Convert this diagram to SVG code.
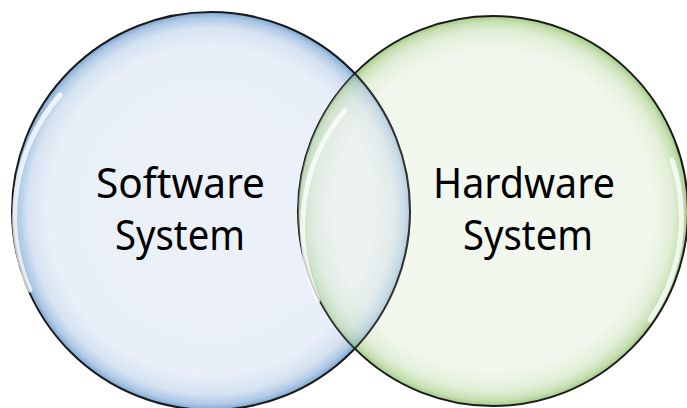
<svg xmlns="http://www.w3.org/2000/svg" width="687" height="408" viewBox="0 0 687 408">
  <defs>
    <radialGradient id="gBlue" cx="0.5" cy="0.5" r="0.5">
      <stop offset="0" stop-color="#ECF1F9"/>
      <stop offset="0.82" stop-color="#E9EFF8"/>
      <stop offset="0.92" stop-color="#D6E3F2"/>
      <stop offset="0.97" stop-color="#AFC9E6"/>
      <stop offset="1" stop-color="#7FA6D2"/>
    </radialGradient>
    <radialGradient id="gGreen" cx="0.5" cy="0.5" r="0.5">
      <stop offset="0" stop-color="#EEF5E9"/>
      <stop offset="0.82" stop-color="#ECF4E6"/>
      <stop offset="0.92" stop-color="#D7E9C9"/>
      <stop offset="0.97" stop-color="#B2D597"/>
      <stop offset="1" stop-color="#7FB55A"/>
    </radialGradient>
    <clipPath id="clipGreen">
      <circle cx="493" cy="211" r="195"/>
    </clipPath>
    <style>
      .ring { stroke: #1a1a1a; stroke-width: 2; }
      .hl { fill: none; stroke: #ffffff; stroke-width: 5; stroke-linecap: round; opacity: 0.75; }
      .lbl { font-family: "Noto Sans", "Open Sans", sans-serif; font-size: 41px; fill: #000000; text-anchor: middle; }
    </style>
  </defs>
  <rect width="687" height="408" fill="#ffffff"/>
  <g id="software">
    <circle cx="211" cy="211" r="199" fill="url(#gBlue)" class="ring"/>
    <path class="hl" d="M 30 290 A 185 185 0 0 1 60 95"/>
    <text class="lbl" x="180.5" y="198" textLength="169" lengthAdjust="spacingAndGlyphs">Software</text>
    <text class="lbl" x="180" y="250" textLength="130" lengthAdjust="spacingAndGlyphs">System</text>
  </g>
  <g id="hardware">
    <circle cx="493" cy="211" r="195" fill="url(#gGreen)" fill-opacity="0.72" class="ring"/>
    <circle cx="211" cy="211" r="199" fill="url(#gBlue)" fill-opacity="0.35" stroke="#1a1a1a" stroke-width="2" stroke-opacity="0.85" clip-path="url(#clipGreen)"/>
    <path class="hl" d="M 318 300 A 182 182 0 0 1 345 110" opacity="0.5"/>
    <path class="hl" d="M 672 160 A 182 182 0 0 1 650 320" opacity="0.6"/>
    <text class="lbl" x="524" y="198" textLength="182" lengthAdjust="spacingAndGlyphs">Hardware</text>
    <text class="lbl" x="528" y="250" textLength="130" lengthAdjust="spacingAndGlyphs">System</text>
  </g>
  <g id="connectors"/>
</svg>
